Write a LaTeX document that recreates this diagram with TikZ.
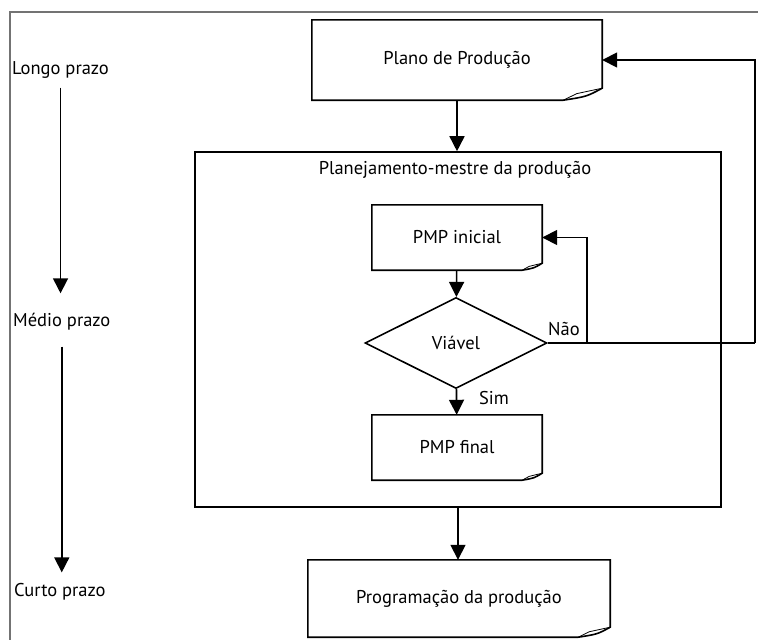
\documentclass[tikz,border=0pt]{standalone}
\usepackage{fontspec}
\setmainfont{PT Sans}
\usetikzlibrary{arrows.meta,shapes.geometric}
\tikzset{
  line/.style={line width=1.6pt},
  arrow/.style={line,-{Triangle[length=15pt,width=15pt]}},
  docbox/.style={minimum width=170pt,minimum height=65pt,inner sep=0pt},
  txt/.style={font=\fontsize{18.5}{22}\selectfont},
  frame/.style={draw=black!55,line width=2pt}
}
\newcommand{\docoutline}[3]{%
\draw[line] (#1.north west) -- (#1.north east) -- ([yshift=#3]#1.south east) .. controls ([xshift=-0.4*#2,yshift=0.3*#3]#1.south east) .. ([xshift=-#2]#1.south east) -- (#1.south west) -- cycle;
\draw[line width=0.8pt] ([yshift=#3]#1.south east) -- ([xshift=-0.65*#2,yshift=0.55*#3]#1.south east) -- ([xshift=-#2]#1.south east);}
\begin{document}
\begin{tikzpicture}[x=1pt,y=-1pt]
\useasboundingbox (0,0) rectangle (758,640);
\draw[frame] (10,641) -- (10,12) -- (759,12);
\node[txt,inner sep=2pt,anchor=west] (longo) at (10,70) {Longo prazo};
\node[txt,inner sep=2pt,anchor=west] (medio) at (11,322) {Médio prazo};
\node[txt,inner sep=2pt,anchor=west] (curto) at (12,592) {Curto prazo};
\draw[arrow,shorten <=7pt,shorten >=18pt] (longo.south) -- (longo.south |- medio.north);
\draw[arrow,shorten <=14pt,shorten >=9pt] (medio.south) -- (medio.south |- curto.north);
\node[docbox,txt,minimum width=290pt,minimum height=80pt] (plano) at (457,60) {Plano de Produção};\docoutline{plano}{39pt}{12pt}
\node[draw,line,minimum width=526pt,minimum height=355pt] (pmp) at (458,329.5) {};
\node[txt] (pmptit) at (455,170) {Planejamento-mestre da produção};
\node[docbox,txt] (ini) at (457,237.5) {PMP inicial};\docoutline{ini}{20pt}{7pt}
\node[draw,line,diamond,aspect=2,minimum width=182pt,minimum height=91pt,inner sep=0pt,txt] (viavel) at (456,343) {Viável};
\node[docbox,txt] (fin) at (457,447.5) {PMP final};\docoutline{fin}{20pt}{7pt}
\node[docbox,txt,minimum width=302pt,minimum height=77pt] (prog) at (459,598.5) {Programação da produção};\docoutline{prog}{32pt}{10pt}
\node[txt] (sim) at (494,398) {Sim};
\node[txt] (nao) at (564,329) {Não};
\coordinate (jn) at (587,343);\coordinate (fb) at (755,343);
\draw[arrow] (plano.south) -- (plano.south |- pmp.north);
\draw[arrow] (ini) -- (viavel);
\draw[arrow] (viavel) -- (fin);
\draw[arrow] (pmp.south) -- (pmp.south |- prog.north);
\draw[line] (viavel.east) -- (fb);
\draw[arrow] (jn) |- (ini.east);
\draw[arrow] (fb) |- (plano.east);
\end{tikzpicture}
\end{document}
